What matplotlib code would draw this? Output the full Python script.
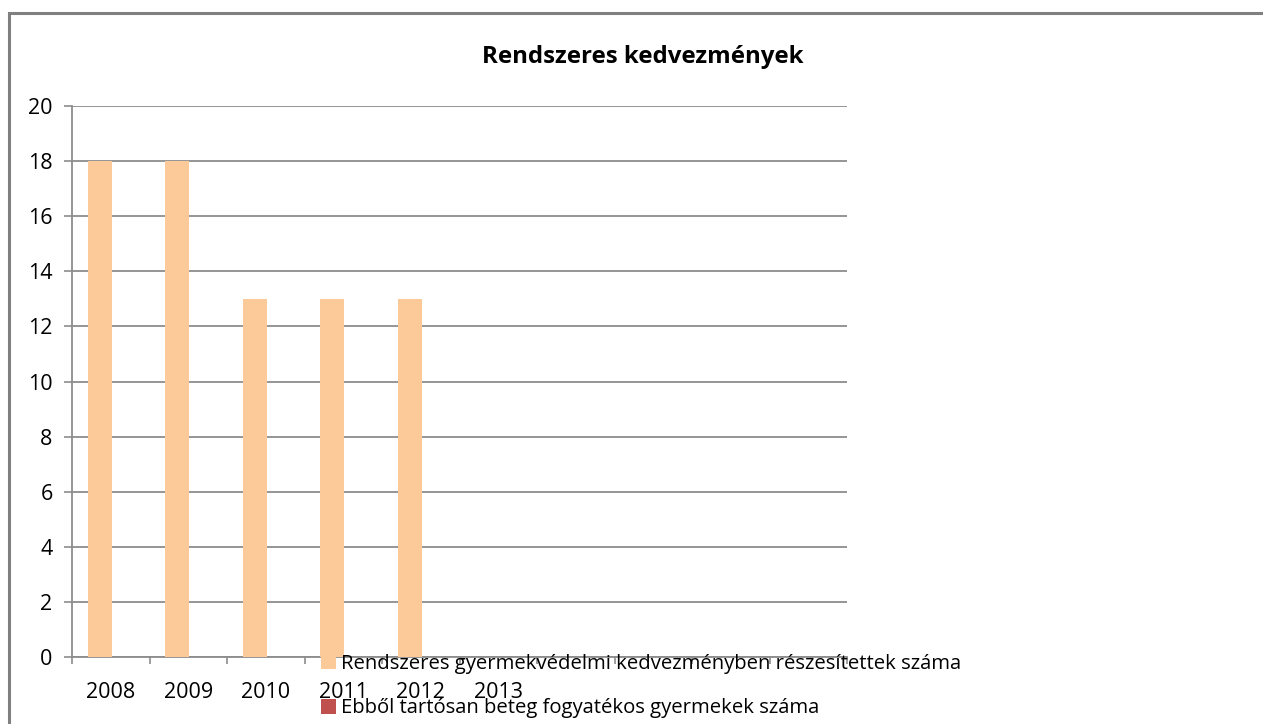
import matplotlib
matplotlib.use("Agg")
import matplotlib.pyplot as plt
from matplotlib.patches import Rectangle
import numpy as np

plt.rcParams['font.family'] = ['Open Sans', 'DejaVu Sans']

title = "Rendszeres kedvezmények"
years = ["2008", "2009", "2010", "2011", "2012", "2013"]
n_slots = 10
series1_name = "Rendszeres gyermekvédelmi kedvezményben részesítettek száma"
series2_name = "Ebből tartósan beteg fogyatékos gyermekek száma"
series1 = [18, 18, 13, 13, 13, 0]
series2 = [0, 0, 0, 0, 0, 0]
yticks = [0, 2, 4, 6, 8, 10, 12, 14, 16, 18, 20]

W, H = 1263, 724
fig = plt.figure(figsize=(W / 100, H / 100), dpi=100)
ax = fig.add_axes([72 / W, 1 - 657 / H, (847 - 72) / W, (657 - 106) / H])

x = np.arange(len(years))
bw = 0.31
ax.bar(x - 0.139, series1, width=bw, color="#FCCA98", label=series1_name, zorder=3)
ax.bar(x + 0.171, series2, width=bw, color="#C0504D", label=series2_name, zorder=3)

ax.set_xlim(-0.5, n_slots - 0.5)
ax.set_ylim(0, 20)
ax.set_yticks(yticks)
ax.set_yticklabels([str(v) for v in yticks])
ax.yaxis.grid(True, color="#8c8c8c", linewidth=1.3, zorder=0)
ax.set_axisbelow(True)

ax.set_xticks(np.arange(n_slots + 1) - 0.5)
ax.set_xticklabels([])
ax.set_xticks(x, minor=True)
ax.set_xticklabels(years, minor=True)
ax.tick_params(axis="x", which="major", length=5, width=1.2, color="#8c8c8c", direction="out")
ax.tick_params(axis="x", which="minor", length=0, pad=18, labelsize=15.5)
ax.tick_params(axis="y", length=6, width=1.2, color="#8c8c8c", pad=8, labelsize=15.5)

for s in ["top", "right"]:
    ax.spines[s].set_visible(False)
for s in ["left", "bottom"]:
    ax.spines[s].set_color("#8c8c8c")
    ax.spines[s].set_linewidth(1.3)

fig.text(643 / W, 1 - 57 / H, title, ha="center", va="center",
         fontsize=17.3, fontweight="bold")

leg = ax.legend(loc="upper left", bbox_to_anchor=(321 / W, 1 - 654 / H),
                bbox_transform=fig.transFigure, frameon=False,
                fontsize=14.6, handlelength=0.75, handleheight=0.75,
                handletextpad=0.25, labelspacing=1.2, borderpad=0,
                borderaxespad=0)

fig.patches.append(Rectangle((9 / W, -0.05), 1.2, 1.05 - 13 / H,
                             transform=fig.transFigure, fill=False,
                             edgecolor="#808080", linewidth=2.2, zorder=0))

fig.savefig("out.png", dpi=100)
